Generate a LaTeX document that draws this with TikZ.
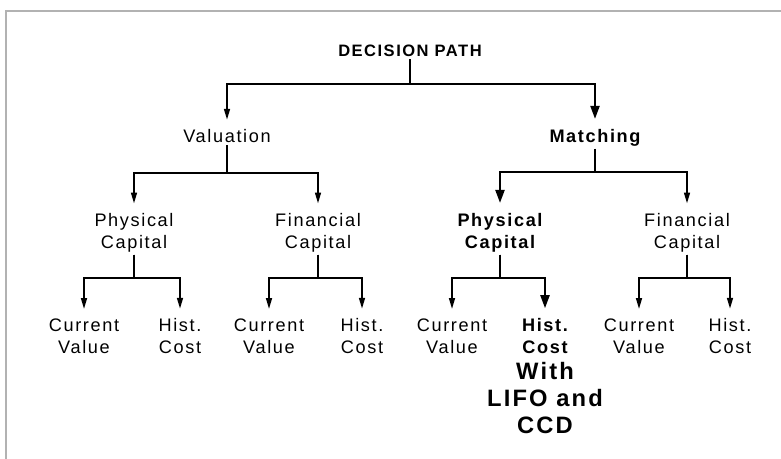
\documentclass[tikz,border=0pt]{standalone}
\usepackage{fontspec}
\setmainfont[LetterSpace=9]{Liberation Sans}
\usetikzlibrary{arrows.meta}

\tikzset{
  lbl/.style={align=center, inner xsep=2pt, inner ysep=1.5pt,
    font=\fontsize{13.6}{16.5}\selectfont},
  key/.style={lbl, font=\fontsize{13.6}{16.5}\selectfont\bfseries},
  head/.style={lbl, font=\fontsize{12.4}{15}\selectfont\bfseries},
  note/.style={align=center, inner sep=1pt,
    font=\fontsize{17.8}{20.2}\selectfont\bfseries},
  link/.style={line width=1pt, shorten >=6pt,
    -{Triangle[length=8pt,width=4.5pt]}},
  keylink/.style={line width=2.2pt, shorten >=6pt,
    -{Triangle[length=10pt,width=6.5pt]}},
}

\begin{document}
\begin{tikzpicture}[x=0.75pt, y=-0.75pt]
                        \useasboundingbox (0,0) rectangle (781,459);
                        \draw[gray!60, line width=1.2pt] (6,459) -- (6,11) -- (781,11);

                        \node[head] (root) at (410,51) {DECISION PATH};
                        \node[lbl] (val) at (227,136.5) {Valuation};
                        \node[key] (mat) at (595,138) {Matching};

                        \node[lbl] (pc1) at (134,233) {Physical\\Capital};
                        \node[lbl] (fc1) at (318,233) {Financial\\Capital};
                        \node[key] (pc2) at (500,233) {Physical\\Capital};
                        \node[lbl] (fc2) at (687,233) {Financial\\Capital};

                        \node[lbl] (cv1) at (84,336.5) {Current\\Value};
                        \node[lbl] (hc1) at (180,336.5) {Hist.\\Cost};
                        \node[lbl] (cv2) at (269,336.5) {Current\\Value};
                        \node[lbl] (hc2) at (362,336.5) {Hist.\\Cost};
                        \node[lbl] (cv3) at (452,336.5) {Current\\Value};
                        \node[key] (hc3) at (545,336.5) {Hist.\\Cost};
                        \node[lbl] (cv4) at (639,336.5) {Current\\Value};
                        \node[lbl] (hc4) at (730,336.5) {Hist.\\Cost};
                        \node[note] (ccd) at (545,398) {With\\LIFO and\\CCD};

                        % plain branches
                        \draw[link] (root.south) -- (root.south |- 0,84) -| (val.north);
                        \draw[link] (val.south) -- (val.south |- 0,173) -| (pc1.north);
                        \draw[link] (val.south) -- (val.south |- 0,173) -| (fc1.north);
                        \draw[link] (mat.south) -- (mat.south |- 0,172) -| (fc2.north);
                        \draw[link] (pc1.south) -- (pc1.south |- 0,278) -| (cv1.north);
                        \draw[link] (pc1.south) -- (pc1.south |- 0,278) -| (hc1.north);
                        \draw[link] (fc1.south) -- (fc1.south |- 0,278) -| (cv2.north);
                        \draw[link] (fc1.south) -- (fc1.south |- 0,278) -| (hc2.north);
                        \draw[link] (pc2.south) -- (pc2.south |- 0,278) -| (cv3.north);
                        \draw[link] (fc2.south) -- (fc2.south |- 0,278) -| (cv4.north);
                        \draw[link] (fc2.south) -- (fc2.south |- 0,278) -| (hc4.north);

                        % the chosen path
                        \draw[keylink] (root.south) -- (root.south |- 0,84) -| (mat.north);
                        \draw[keylink] (mat.south) -- (mat.south |- 0,172) -| (pc2.north);
                        \draw[keylink] (pc2.south) -- (pc2.south |- 0,278) -| (hc3.north);
                    \end{tikzpicture}
\end{document}
